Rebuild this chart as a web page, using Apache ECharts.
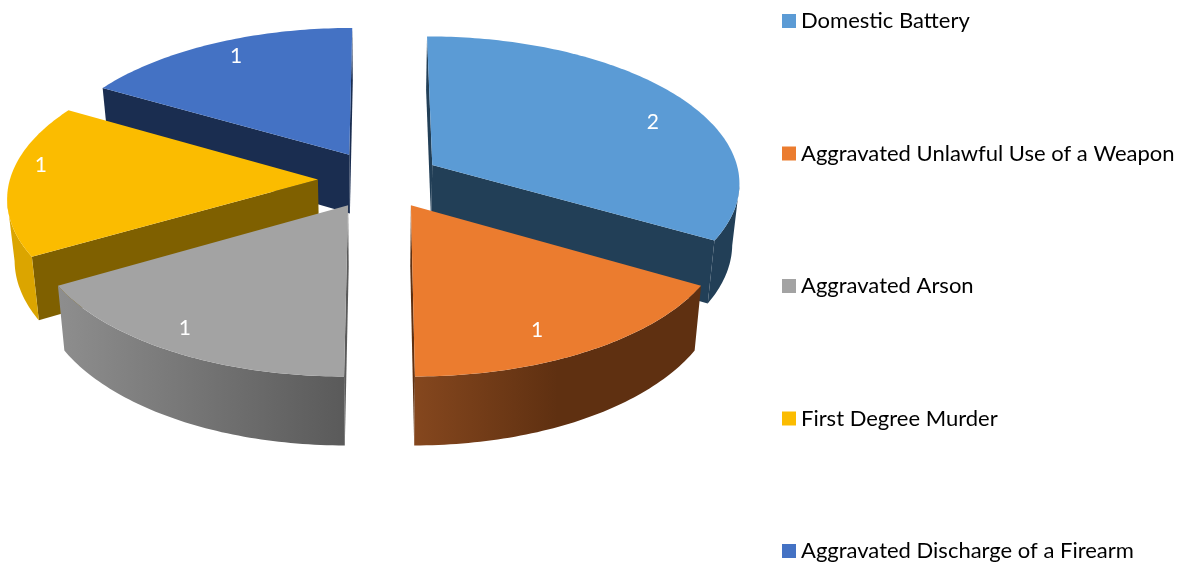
<!DOCTYPE html>
<html>
<head>
<meta charset="utf-8">
<style>html,body{margin:0;padding:0;background:#fff}#c{width:1183px;height:564px}</style>
<script src="https://cdn.jsdelivr.net/npm/echarts@6/dist/echarts.min.js"></script>
</head>
<body>
<div id="c"></div>
<script>
const categories = ['Domestic Battery', 'Aggravated Unlawful Use of a Weapon', 'Aggravated Arson', 'First Degree Murder', 'Aggravated Discharge of a Firearm'];
const values = [2, 1, 1, 1, 1];

const topColors = ['#5B9BD5', '#EB7C2F', '#A3A3A3', '#FBBC00', '#4472C4'];
const wallColors = ['#223F57', '#5F3011', '#5A5A5A', '#7F6000', '#1A2D50'];
const rimColors = [['#223F57', '#223F57'], ['#85471E', '#5F3011'], ['#8E8E8E', '#5A5A5A'], ['#DBA500', '#DBA500'], ['#1A2D50', '#1A2D50']];
const rimMid = [1, 0.5, 1, 1, 1];
const drawOrder = [1, 3, 4, 2, 0];
const labelShift = [[4, 16], [-26, 0], [-11, -2], [-9, -14], [6, -1]];

const view = { cx: 379.5, cy: 179.5, sx: 308, sy: 146, persp: 0.111, depth: 60, taper: 0.02, explode: 0.2, labelAt: 0.87 };
const total = values.reduce((a, b) => a + b, 0);

function project(u, v, z) {
  const s = 1 / (1 - view.persp * v);
  return [view.cx + view.sx * u * s * (1 - view.taper * z), view.cy + view.sy * v * s + view.depth * s * z];
}
function planar(deg, r, mid) {
  const t = deg * Math.PI / 180, m = mid * Math.PI / 180;
  return [view.explode * Math.sin(m) + r * Math.sin(t), -view.explode * Math.cos(m) - r * Math.cos(t)];
}
function area(pts) {
  let a = 0;
  pts.forEach((p, i) => { const q = pts[(i + 1) % pts.length]; a += p[0] * q[1] - q[0] * p[1]; });
  return a / 2;
}
function sliceRender(idx) {
  return function (params, api) {
    const v = api.value(0);
    const before = values.slice(0, idx).reduce((a, b) => a + b, 0);
    const a0 = before / total * 360, a1 = (before + v) / total * 360, mid = (a0 + a1) / 2;
    const at = (deg, r, z) => { const p = planar(deg, r, mid); return project(p[0], p[1], z); };
    const children = [];
    const wall = (deg, sign) => {
      const q = [at(deg, 0, 0), at(deg, 1, 0), at(deg, 1, 1), at(deg, 0, 1)];
      if (area(q) * sign > 0) children.push({ type: 'polygon', shape: { points: q }, style: { fill: wallColors[idx] } });
    };
    wall(a0, -1);
    wall(a1, 1);
    const arc = [];
    for (let d = a0; d <= a1 + 1e-6; d += 1) arc.push(d);
    const front = arc.filter((d, i) => {
      const n = arc[Math.min(i + 1, arc.length - 1)], c = arc[Math.max(i - 1, 0)];
      return at(n, 1, 0)[0] < at(c, 1, 0)[0];
    });
    if (front.length > 1) {
      const pts = front.map(d => at(d, 1, 0)).concat(front.slice().reverse().map(d => at(d, 1, 1)));
      children.push({ type: 'polygon', shape: { points: pts }, style: { fill: {
        type: 'linear', x: 0, y: 0, x2: 1, y2: 0,
        colorStops: [{ offset: 0, color: rimColors[idx][0] }, { offset: rimMid[idx], color: rimColors[idx][1] }, { offset: 1, color: rimColors[idx][1] }]
      } } });
    }
    const topPts = [at(a0, 0, 0)].concat(arc.map(d => at(d, 1, 0)));
    children.push({ type: 'polygon', shape: { points: topPts }, style: { fill: topColors[idx] } });
    const lp = at(mid, view.labelAt, 0);
    children.push({ type: 'text', style: {
      text: String(v), x: lp[0] + labelShift[idx][0], y: lp[1] + labelShift[idx][1],
      fill: '#fff', font: '21px Lato', align: 'center', verticalAlign: 'middle'
    } });
    return { type: 'group', children };
  };
}

const chart = echarts.init(document.getElementById('c'), null, { renderer: 'canvas' });
chart.setOption({
  animation: false,
  backgroundColor: '#fff',
  legend: {
    data: categories, orient: 'vertical', left: 782, top: 9, padding: 0,
    itemWidth: 14, itemHeight: 14, itemGap: 108.5, icon: 'rect', selectedMode: false,
    textStyle: { color: '#000', fontFamily: 'Lato', fontSize: 22, lineHeight: 24 }
  },
  series: categories.map((name, i) => ({
    type: 'custom', name, coordinateSystem: 'none', z: 2 + drawOrder[i], silent: true,
    itemStyle: { color: topColors[i] },
    data: [[values[i]]],
    renderItem: sliceRender(i)
  }))
});
</script>
</body>
</html>
